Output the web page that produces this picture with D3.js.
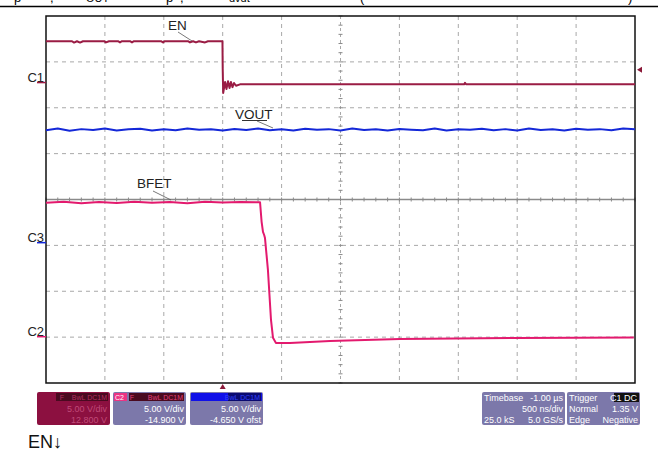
<!DOCTYPE html>
<html>
<head>
<meta charset="utf-8">
<script src="https://cdn.jsdelivr.net/npm/d3@7"></script>
<style>
  body { margin: 0; background: #fff; }
  text { font-family: "Liberation Sans", Arial, sans-serif; }
</style>
</head>
<body>
<svg width="658" height="459"></svg>
<script>
// channel settings (V/div, offset V)
const chNames = ["C1", "C2", "C3"];
const chVdiv = [5, 5, 5];
const chOffset = [12.8, -14.9, -4.65];
const chColor = ["#9a1c44", "#e31a6e", "#1428d8"];

// EN on C1 (time in µs, volts)
const enTime = [-1.5, -1.279, -1.262, -1.237, -1.211, -1.186, -1.008, -0.991, -0.965, -0.889, -0.872, -0.855,
  -0.787, -0.770, -0.753, -0.524, -0.507, -0.49, -0.295, -0.278, -0.252, -0.227, -0.201, -0.15, -0.125, -0.002,
  0.0, 0.004, 0.02, 0.032, 0.045, 0.058, 0.07, 0.083, 0.096, 0.113, 0.147, 2.05, 2.057, 2.065, 3.5];
const enVolt = [4.45, 4.45, 4.3, 4.45, 4.3, 4.45, 4.45, 4.32, 4.45, 4.45, 4.32, 4.45,
  4.45, 4.32, 4.45, 4.45, 4.32, 4.45, 4.45, 4.32, 4.45, 4.32, 4.45, 4.32, 4.45, 4.45,
  1.5, -1.2, 0.0, -0.76, 0.1, -0.65, 0.0, -0.55, -0.1, -0.4, -0.25, -0.25, -0.08, -0.25, -0.25];

// VOUT on C3 (sampled every 0.1 µs)
const voutTime = [-1.5, -1.4, -1.3, -1.2, -1.1, -1.0, -0.9, -0.8, -0.7, -0.6, -0.5, -0.4, -0.3, -0.2, -0.1,
  0.0, 0.1, 0.2, 0.3, 0.4, 0.5, 0.6, 0.7, 0.8, 0.9, 1.0, 1.1, 1.2, 1.3, 1.4, 1.5, 1.6, 1.7, 1.8, 1.9,
  2.0, 2.1, 2.2, 2.3, 2.4, 2.5, 2.6, 2.7, 2.8, 2.9, 3.0, 3.1, 3.2, 3.3, 3.4, 3.5];
const voutVolt = [12.2, 12.38, 12.15, 12.32, 12.22, 12.4, 12.18, 12.3, 12.36, 12.16, 12.3, 12.2, 12.38, 12.24,
  12.3, 12.16, 12.34, 12.22, 12.38, 12.2, 12.3, 12.16, 12.36, 12.24, 12.32, 12.18, 12.4, 12.22, 12.3, 12.16,
  12.34, 12.26, 12.2, 12.38, 12.18, 12.3, 12.24, 12.36, 12.2, 12.32, 12.16, 12.38, 12.22, 12.3, 12.18, 12.36,
  12.24, 12.32, 12.2, 12.38, 12.3];

// BFET on C2
const bfetTime = [-1.5, -1.35, -1.2, -1.05, -0.9, -0.75, -0.6, -0.45, -0.3, -0.15, 0.0, 0.15, 0.317, 0.33,
  0.342, 0.352, 0.359, 0.384, 0.41, 0.427, 0.452, 0.571, 0.911, 1.505, 2.5, 3.49];
const bfetVolt = [14.55, 14.66, 14.5, 14.64, 14.52, 14.66, 14.54, 14.62, 14.5, 14.66, 14.58, 14.64, 14.6, 12.5,
  11.36, 11.03, 10.7, 7.22, 1.77, -0.18, -0.73, -0.73, -0.51, -0.3, -0.2, -0.13];

const labels = ["EN", "VOUT", "BFET"];
const triggerLevel = 1.35;

const svg = d3.select("svg");
const x = d3.scaleLinear().domain([-1.5, 3.5]).range([46, 635]);
const y = d3.scaleLinear().domain([-4, 4]).range([383, 16]);

function divOf(ch, v) {
  return (v + chOffset[ch]) / chVdiv[ch];
}

// title remnant at top (cut off in the source)
const title = svg.append("g").attr("fill", "#000");
[["p", 14], [",", 50], ["OUT", 86], ["p", 166], [",", 180], ["dvdt", 229], ["(", 360], [")", 628]].forEach(function (d) {
  title.append("text").attr("x", d[1]).attr("y", 2)
    .attr("font-size", d[0] === "OUT" || d[0] === "dvdt" ? 11 : 13).text(d[0]);
});
svg.append("line").attr("x1", 0).attr("x2", 658).attr("y1", 6.5).attr("y2", 6.5)
  .attr("stroke", "#000").attr("stroke-width", 1.6);

// grid
const grid = svg.append("g");
d3.range(1, 10).forEach(function (i) {
  const t = -1.5 + i * 0.5;
  grid.append("line").attr("x1", x(t)).attr("x2", x(t)).attr("y1", y(4)).attr("y2", y(-4))
    .attr("stroke", "#a8a8a8").attr("stroke-width", 1).attr("stroke-dasharray", i === 5 ? "3,3" : "4,4");
});
d3.range(-3, 4).forEach(function (d) {
  grid.append("line").attr("x1", x(-1.5)).attr("x2", x(3.5)).attr("y1", y(d)).attr("y2", y(d))
    .attr("stroke", d === 0 ? "#8a8a8a" : "#a8a8a8").attr("stroke-width", d === 0 ? 1.3 : 1)
    .attr("stroke-dasharray", d === 0 ? null : "4,4");
});
// minor ticks on center axes
d3.range(-1.5, 3.5001, 0.1).forEach(function (t) {
  grid.append("line").attr("x1", x(t)).attr("x2", x(t)).attr("y1", y(0) - 2).attr("y2", y(0) + 2)
    .attr("stroke", "#8a8a8a");
});
d3.range(-4, 4.001, 0.2).forEach(function (d) {
  grid.append("line").attr("x1", x(1) - 2).attr("x2", x(1) + 2).attr("y1", y(d)).attr("y2", y(d))
    .attr("stroke", "#8a8a8a");
});

// plot frame
svg.append("rect").attr("x", x(-1.5)).attr("y", y(4)).attr("width", x(3.5) - x(-1.5)).attr("height", y(-4) - y(4))
  .attr("fill", "none").attr("stroke", "#111").attr("stroke-width", 1.5);

// traces
function trace(ch, times, volts, width) {
  const pts = times.map(function (t, i) { return [t, volts[i]]; });
  const line = d3.line().x(function (d) { return x(d[0]); }).y(function (d) { return y(divOf(ch, d[1])); });
  svg.append("path").datum(pts).attr("d", line).attr("fill", "none")
    .attr("stroke", chColor[ch]).attr("stroke-width", width).attr("stroke-linejoin", "round");
}
trace(2, voutTime, voutVolt, 2);
trace(0, enTime, enVolt, 2);
trace(1, bfetTime, bfetVolt, 2);

// channel ground markers
chNames.forEach(function (name, i) {
  const yy = y(divOf(i, 0));
  svg.append("text").attr("x", 44).attr("y", yy).attr("text-anchor", "end").attr("font-size", 13)
    .attr("fill", "#222").text(name);
  svg.append("line").attr("x1", 37).attr("x2", 46).attr("y1", yy + 0.5).attr("y2", yy + 0.5)
    .attr("stroke", chColor[i]).attr("stroke-width", 1.5);
});

// trigger markers
const ty = y(divOf(0, triggerLevel));
svg.append("path").attr("d", "M637," + ty + "L642," + (ty - 3) + "L642," + (ty + 3) + "Z").attr("fill", "#8a1838");
svg.append("path").attr("d", "M" + x(0) + ",384L" + (x(0) - 3) + ",389L" + (x(0) + 3) + ",389Z").attr("fill", "#8a1838");

// trace labels with leaders
const lab = [
  { t: labels[0], x: 168, y: 30, lx1: 178, ly1: 32, lx2: 192, ly2: 41 },
  { t: labels[1], x: 235, y: 119, lx1: 257, ly1: 121, lx2: 273, ly2: 128 },
  { t: labels[2], x: 137, y: 188, lx1: 153, ly1: 191, lx2: 171, ly2: 200 }
];
lab.forEach(function (d) {
  svg.append("text").attr("x", d.x).attr("y", d.y).attr("font-size", 13.5).attr("fill", "#222").text(d.t);
  svg.append("line").attr("x1", d.lx1).attr("y1", d.ly1).attr("x2", d.lx2).attr("y2", d.ly2)
    .attr("stroke", "#555").attr("stroke-width", 0.8);
});
svg.append("line").attr("x1", 242).attr("x2", 267).attr("y1", 120.5).attr("y2", 120.5).attr("stroke", "#333");

// info boxes
function box(x0, w, fill) {
  svg.append("rect").attr("x", x0).attr("y", 392).attr("width", w).attr("height", 33).attr("rx", 2).attr("fill", fill);
}
function txt(xx, yy, s, col, anchor, size) {
  svg.append("text").attr("x", xx).attr("y", yy).attr("font-size", size || 9).attr("fill", col)
    .attr("text-anchor", anchor || "end").text(s);
}
// C1
box(37, 73, "#8c1040");
svg.append("rect").attr("x", 56).attr("y", 393).attr("width", 52).attr("height", 8).attr("fill", "#4a0a20");
txt(64, 400, "F", "#b03060", "end", 7);
txt(107, 400, "BwL DC1M", "#b03060", "end", 7);
txt(107, 412, "5.00 V/div", "#c04a78");
txt(107, 423, "12.800 V", "#c04a78");
// C2
box(113, 73, "#7c78aa");
svg.append("rect").attr("x", 114).attr("y", 393).attr("width", 13).attr("height", 8).attr("fill", "#ec3584");
svg.append("rect").attr("x", 129).attr("y", 393).attr("width", 55).attr("height", 8).attr("fill", "#4a0a20");
txt(115, 400, "C2", "#fff", "start", 7);
txt(134, 400, "F", "#e0407a", "end", 7);
txt(183, 400, "BwL DC1M", "#e0407a", "end", 7);
txt(184, 412, "5.00 V/div", "#fff");
txt(184, 423, "-14.900 V", "#fff");
// C3
box(190, 73, "#7c78aa");
svg.append("rect").attr("x", 191).attr("y", 393).attr("width", 71).attr("height", 8).attr("fill", "#1010e8");
svg.append("rect").attr("x", 228).attr("y", 393).attr("width", 33).attr("height", 8).attr("fill", "#0a0a70");
txt(260, 400, "BwL DC1M", "#3040ff", "end", 7);
txt(261, 412, "5.00 V/div", "#fff");
txt(261, 423, "-4.650 V ofst", "#fff");
// timebase
box(482, 83, "#7c78aa");
txt(484, 401, "Timebase", "#fff", "start");
txt(563, 401, "-1.00 µs", "#fff");
txt(563, 412, "500 ns/div", "#fff");
txt(484, 423, "25.0 kS", "#fff", "start");
txt(563, 423, "5.0 GS/s", "#fff");
// trigger
box(567, 73, "#7c78aa");
svg.append("rect").attr("x", 614).attr("y", 393).attr("width", 25).attr("height", 9).attr("fill", "#111");
txt(569, 401, "Trigger", "#fff", "start");
txt(637, 401, "C1 DC", "#fff");
txt(569, 412, "Normal", "#fff", "start");
txt(638, 412, "1.35 V", "#fff");
txt(569, 423, "Edge", "#fff", "start");
txt(638, 423, "Negative", "#fff");

// caption
svg.append("text").attr("x", 28).attr("y", 448).attr("font-size", 18).attr("fill", "#111").text("EN↓");
</script>
</body>
</html>
